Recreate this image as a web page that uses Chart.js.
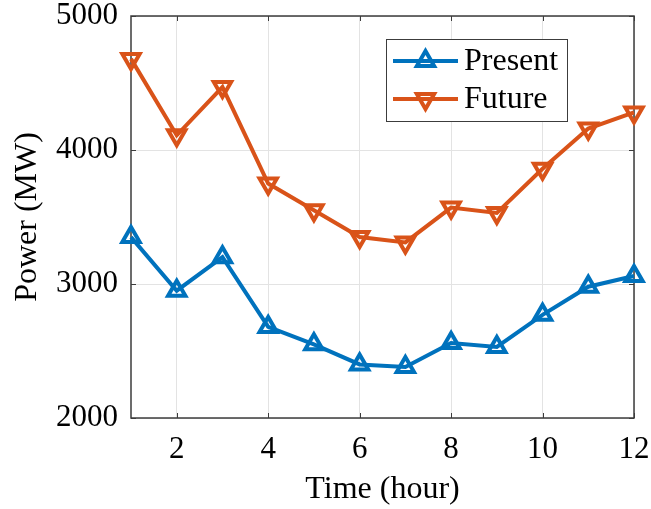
<!DOCTYPE html>
<html>
<head>
<meta charset="utf-8">
<script src="https://cdn.jsdelivr.net/npm/chart.js@4/dist/chart.umd.min.js"></script>
<style>
  html, body { margin: 0; padding: 0; background: #fff; }
  canvas { display: block; }
</style>
</head>
<body>
<canvas id="power" width="651" height="509"></canvas>
<script>
// hourly load, MW
const hours = [1, 2, 3, 4, 5, 6, 7, 8, 9, 10, 11, 12];
const presentMW = [3350, 2950, 3200, 2680, 2550, 2400, 2380, 2560, 2530, 2770, 2980, 3060];
const futureMW = [4680, 4110, 4470, 3750, 3550, 3350, 3310, 3570, 3530, 3860, 4160, 4280];
const xTicks = [2, 4, 6, 8, 10, 12];
const yTicks = [2000, 3000, 4000, 5000];

const BLUE = "#0072BD";
const ORANGE = "#D95319";
const AXIS = "#3c3c3c";
const FONT = "'Liberation Serif', 'Times New Roman', serif";

const points = (vals) => hours.map((h, i) => ({ x: h, y: vals[i] }));

// box round the plot, ticks pointing inward
const axesBox = {
  id: "axesBox",
  beforeDatasetsDraw(chart) {
    const { ctx, chartArea: a, scales } = chart;
    const len = 5;
    ctx.save();
    ctx.strokeStyle = AXIS;
    ctx.lineWidth = 1;
    ctx.beginPath();
    xTicks.forEach((v) => {
      const px = Math.round(scales.x.getPixelForValue(v)) + 0.5;
      ctx.moveTo(px, a.bottom); ctx.lineTo(px, a.bottom - len);
      ctx.moveTo(px, a.top); ctx.lineTo(px, a.top + len);
    });
    yTicks.forEach((v) => {
      const py = Math.round(scales.y.getPixelForValue(v)) + 0.5;
      ctx.moveTo(a.left, py); ctx.lineTo(a.left + len, py);
      ctx.moveTo(a.right, py); ctx.lineTo(a.right - len, py);
    });
    ctx.stroke();
    ctx.lineWidth = 1.5;
    ctx.strokeRect(a.left, a.top, a.right - a.left, a.bottom - a.top);
    ctx.restore();
  },
};

// legend with a line sample and its marker
const lineLegend = {
  id: "lineLegend",
  afterDraw(chart) {
    const { ctx } = chart;
    const box = { x: 386, y: 39, w: 181, h: 82 };
    ctx.save();
    ctx.fillStyle = "#fff";
    ctx.fillRect(box.x, box.y, box.w, box.h);
    ctx.strokeStyle = AXIS;
    ctx.lineWidth = 1;
    ctx.strokeRect(box.x + 0.5, box.y + 0.5, box.w, box.h);
    chart.data.datasets.forEach((ds, i) => {
      const cy = box.y + 22 + i * 38;
      const x0 = box.x + 7, x1 = box.x + 72;
      ctx.strokeStyle = ds.borderColor;
      ctx.lineWidth = ds.borderWidth;
      ctx.beginPath();
      ctx.moveTo(x0, cy); ctx.lineTo(x1, cy);
      ctx.stroke();
      ctx.fillStyle = "rgba(0,0,0,0)";
      ctx.lineWidth = ds.pointBorderWidth;
      Chart.helpers.drawPoint(ctx, {
        pointStyle: ds.pointStyle,
        rotation: ds.pointRotation,
        radius: ds.pointRadius,
        borderWidth: ds.pointBorderWidth,
      }, (x0 + x1) / 2, cy);
      ctx.fillStyle = "#000";
      ctx.font = "32px " + FONT;
      ctx.textBaseline = "middle";
      ctx.fillText(ds.label, box.x + 78, cy + 1);
    });
    ctx.restore();
  },
};

new Chart(document.getElementById("power"), {
  type: "line",
  data: {
    datasets: [
      {
        label: "Present",
        data: points(presentMW),
        borderColor: BLUE,
        backgroundColor: "transparent",
        borderWidth: 4,
        pointStyle: "triangle",
        pointRotation: 0,
        pointRadius: 10,
        pointBorderWidth: 4,
        pointBorderColor: BLUE,
        pointBackgroundColor: "transparent",
        clip: false,
      },
      {
        label: "Future",
        data: points(futureMW),
        borderColor: ORANGE,
        backgroundColor: "transparent",
        borderWidth: 4,
        pointStyle: "triangle",
        pointRotation: 180,
        pointRadius: 10,
        pointBorderWidth: 4,
        pointBorderColor: ORANGE,
        pointBackgroundColor: "transparent",
        clip: false,
      },
    ],
  },
  options: {
    responsive: false,
    animation: false,
    layout: { padding: { top: 16, right: 17, left: 0, bottom: 0 } },
    plugins: {
      legend: { display: false },
      tooltip: { enabled: false },
    },
    scales: {
      x: {
        type: "linear",
        min: 1,
        max: 12,
        afterBuildTicks: (scale) => { scale.ticks = xTicks.map((v) => ({ value: v })); },
        afterFit: (scale) => {
          scale.height = 91;
          scale.paddingLeft = 0;
          scale.paddingRight = 0;
        },
        grid: { color: "#e3e3e3", lineWidth: 1, drawTicks: false },
        border: { display: false },
        ticks: {
          color: "#000",
          padding: 13,
          font: { family: FONT, size: 31 },
          callback: (v) => String(v),
        },
        title: {
          display: true,
          text: "Time (hour)",
          color: "#000",
          padding: { top: 0, bottom: 0 },
          font: { family: FONT, size: 32 },
        },
      },
      y: {
        min: 2000,
        max: 5000,
        afterBuildTicks: (scale) => { scale.ticks = yTicks.map((v) => ({ value: v })); },
        afterFit: (scale) => {
          scale.width = 131;
          scale.paddingTop = 0;
          scale.paddingBottom = 0;
        },
        grid: { color: "#e3e3e3", lineWidth: 1, drawTicks: false },
        border: { display: false },
        ticks: {
          color: "#000",
          padding: 13,
          font: { family: FONT, size: 31 },
          callback: (v) => String(v),
        },
        title: {
          display: true,
          text: "Power (MW)",
          color: "#000",
          padding: { top: 8, bottom: 0 },
          font: { family: FONT, size: 32 },
        },
      },
    },
  },
  plugins: [axesBox, lineLegend],
});
</script>
</body>
</html>
